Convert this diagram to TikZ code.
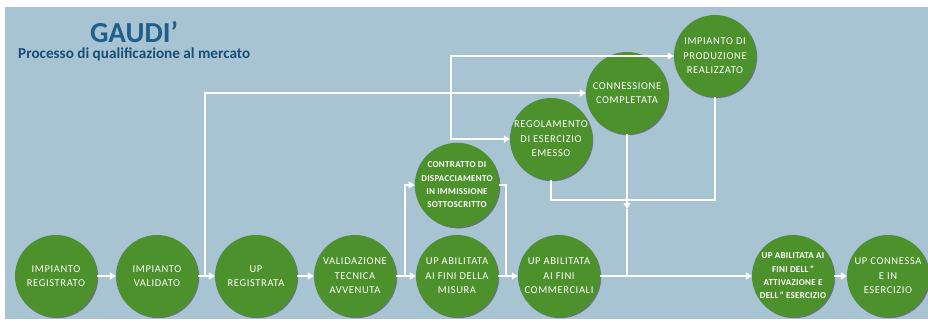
\documentclass[tikz,border=0pt]{standalone}
\usepackage{fontspec}
\setmainfont{Carlito}
\newfontfamily\stepfont{Carlito}[LetterSpace=6]
\newfontfamily\stepfontbold{Carlito}[LetterSpace=3,UprightFont=*-Bold]
\usetikzlibrary{arrows.meta,shadows}
\definecolor{bgblue}{RGB}{168,196,210}
\definecolor{stepgreen}{RGB}{76,145,43}
\definecolor{titleblue}{RGB}{30,95,140}
\definecolor{subblue}{RGB}{24,78,118}
\begin{document}
\begin{tikzpicture}[x=1pt,y=-1pt,
  stepnode/.style={circle, fill=stepgreen, minimum size=82pt, inner sep=0pt, text=white, align=center,
    font=\stepfont\fontsize{10.5}{14.5}\selectfont,
    drop shadow={shadow xshift=1.2pt, shadow yshift=-1.2pt, opacity=0.4, fill=black}},
  smallstep/.style={stepnode, font=\stepfontbold\fontsize{9}{13.3}\selectfont},
  conn/.style={draw=white, line width=1.3pt},
  arr/.style={conn, -{Triangle[length=6pt,width=7pt]}}]
\useasboundingbox (0,0) rectangle (928,322);
\fill[white] (0,0) rectangle (928,322);
\fill[bgblue] (5,7) rectangle (928,319);

% title
\node[anchor=base, font=\fontsize{29}{30}\selectfont\bfseries, text=titleblue, inner sep=0pt, text depth=0pt] (title) at (134,42.5) {GAUDI’};
\node[anchor=base west, font=\fontsize{15.2}{17}\selectfont\bfseries, text=subblue, inner sep=0pt, text height=8pt] (sub) at (18,58.5) {Processo di qualificazione al mercato};

% steps
\node[stepnode] (n1) at (56,276) {IMPIANTO\\REGISTRATO};
\node[stepnode] (n2) at (157,276) {IMPIANTO\\VALIDATO};
\node[stepnode] (n3) at (256,276) {UP\\REGISTRATA};
\node[stepnode] (n4) at (355,276) {VALIDAZIONE\\TECNICA\\AVVENUTA};
\node[stepnode] (n5) at (457,276) {UP ABILITATA\\AI FINI DELLA\\MISURA};
\node[stepnode] (n6) at (559,276) {UP ABILITATA\\AI FINI\\COMMERCIALI};
\node[smallstep] (n7) at (457,185) {CONTRATTO DI\\DISPACCIAMENTO\\IN IMMISSIONE\\SOTTOSCRITTO};
\node[stepnode] (n8) at (551,139) {REGOLAMENTO\\DI ESERCIZIO\\EMESSO};
\node[stepnode] (n9) at (627,93) {CONNESSIONE\\COMPLETATA};
\node[stepnode] (n10) at (715,56) {IMPIANTO DI\\PRODUZIONE\\REALIZZATO};
\node[smallstep] (n11) at (793,276) {UP ABILITATA AI\\FINI DELL\,”\\ATTIVAZIONE E\\DELL\,” ESERCIZIO};
\node[stepnode] (n12) at (888,276) {UP CONNESSA\\E IN\\ESERCIZIO};

% junction points
\coordinate (b1) at (205,276);
\coordinate (b2) at (451,93);
\coordinate (b3) at (405,276);
\coordinate (c3) at (506,276);
\coordinate (j1) at (551,200);
\coordinate (j2) at (715,200);
\coordinate (j3) at (627,209);
\coordinate (j4) at (627,276);

% main row
\draw[arr] (n1) -- (n2);
\draw[arr] (n2) -- (n3);
\draw[arr] (n3) -- (n4);
\draw[arr] (n4) -- (n5);
\draw[arr] (n5) -- (n6);
\draw[arr] (n6) -- (n11);
\draw[arr] (n11) -- (n12);

% upper branches
\draw[arr] (b1) |- (n9);
\draw[arr] (b2) |- (n10);
\draw[arr] (b2) |- (n8);
\draw[arr] (b3) |- (n7);
\draw[conn] (n7.east) -| (c3);

% join
\draw[conn] (n8.south) -- (j1) -- (j2) -- (n10.south);
\draw[arr] (n9.south) -- (j3);
\draw[conn] (j3) -- (j4);
\end{tikzpicture}
\end{document}
